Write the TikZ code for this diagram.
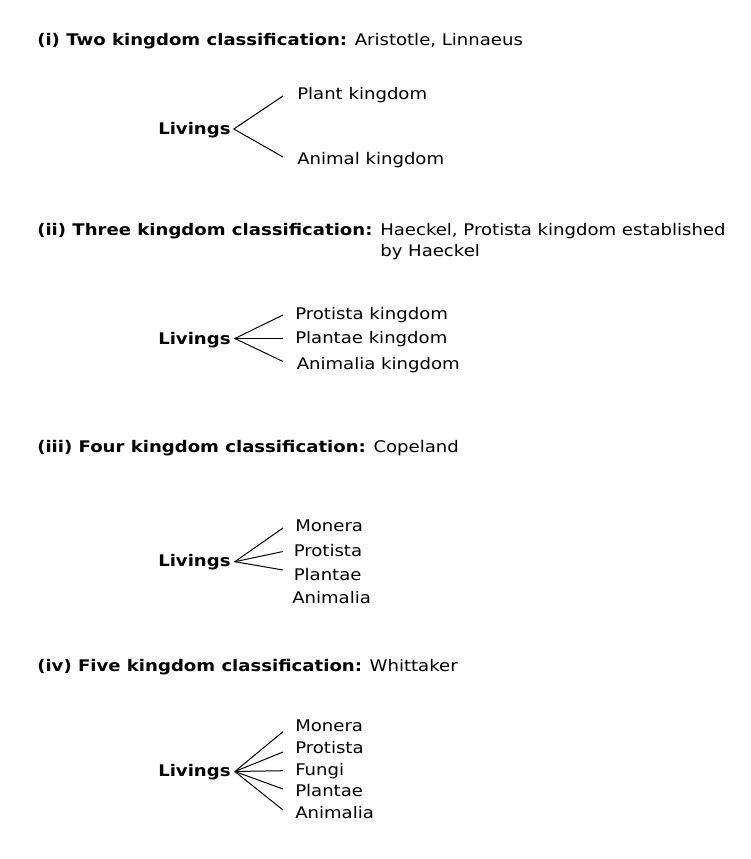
\documentclass[tikz,border=0pt]{standalone}
\usepackage{fontspec}
\setmainfont{DejaVu Sans}[FakeStretch=1.13]
\begin{document}
\begin{tikzpicture}[x=0.75pt,y=-0.75pt,
  txt/.style={anchor=base west,inner sep=0pt,font=\fontsize{12pt}{16pt}\selectfont},
  liv/.style={txt,font=\fontsize{12pt}{16pt}\selectfont\bfseries},
  br/.style={line width=0.75pt,black}]
\useasboundingbox[fill=white] (0,0) rectangle (750,859);

% (i)
\node[txt] (t1) at (37,45.5) {\textbf{(i) Two kingdom classification:} Aristotle, Linnaeus};
\node[liv] (l1) at (158,135) {Livings};
\node[txt] (k11) at (297,100) {Plant kingdom};
\node[txt] (k12) at (297,164.3) {Animal kingdom};
\coordinate (e11) at (283,96);
\coordinate (e12) at (283,157);
\draw[br] (e11) -- ([shift={(3,-6)}]l1.base east) -- (e12);

% (ii)
\node[txt] (t2) at (37,235) {\textbf{(ii) Three kingdom classification:}};
\node[txt] (t2a) at (380,235) {Haeckel, Protista kingdom established};
\node[txt] (t2b) at (380,256.5) {by Haeckel};
\node[liv] (l2) at (158,344.3) {Livings};
\node[txt] (k21) at (295,319.5) {Protista kingdom};
\node[txt] (k22) at (295,343.3) {Plantae kingdom};
\node[txt] (k23) at (296.5,369.5) {Animalia kingdom};
\coordinate (e21) at (283,315);
\coordinate (e22) at (283,338.5);
\coordinate (e23) at (283,361.5);
\draw[br] (e21) -- ([shift={(4,-5.8)}]l2.base east) -- (e23);
\draw[br] ([shift={(4,-5.8)}]l2.base east) -- (e22);

% (iii)
\node[txt] (t3) at (37,452) {\textbf{(iii) Four kingdom classification:} Copeland};
\node[liv] (l3) at (158,566.7) {Livings};
\node[txt] (k31) at (295,531.7) {Monera};
\node[txt] (k32) at (293.5,556.7) {Protista};
\node[txt] (k33) at (293.5,580) {Plantae};
\node[txt] (k34) at (292,603.3) {Animalia};
\coordinate (e31) at (283,528);
\coordinate (e32) at (283,551.5);
\coordinate (e33) at (283,570);
\draw[br] (e31) -- ([shift={(4,-5)}]l3.base east) -- (e33);
\draw[br] ([shift={(4,-5)}]l3.base east) -- (e32);

% (iv)
\node[txt] (t4) at (37,671) {\textbf{(iv) Five kingdom classification:} Whittaker};
\node[liv] (l4) at (158,776.7) {Livings};
\node[txt] (k41) at (295,731.7) {Monera};
\node[txt] (k42) at (295,753.3) {Protista};
\node[txt] (k43) at (295,775) {Fungi};
\node[txt] (k44) at (295,796.7) {Plantae};
\node[txt] (k45) at (295,818.3) {Animalia};
\coordinate (e41) at (283,731.7);
\coordinate (e42) at (283,752);
\coordinate (e43) at (283,770.7);
\coordinate (e44) at (283,789);
\coordinate (e45) at (283,810);
\foreach \e in {e41,e42,e43,e44,e45}
  \draw[br] ([shift={(4,-5.2)}]l4.base east) -- (\e);
\end{tikzpicture}
\end{document}
